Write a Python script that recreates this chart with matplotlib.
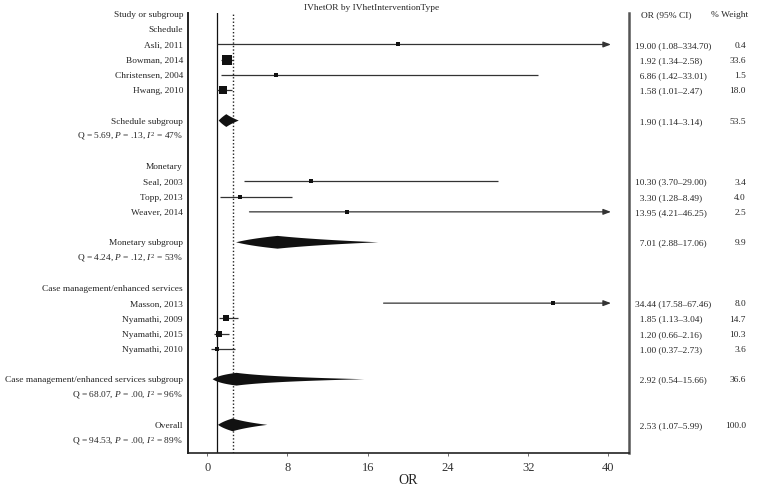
import numpy as np
import matplotlib
matplotlib.use("Agg")
import matplotlib.pyplot as plt
from matplotlib.transforms import blended_transform_factory

plt.rcParams['font.family'] = ['Liberation Serif', 'DejaVu Serif']
plt.rcParams['mathtext.fontset'] = 'custom'
plt.rcParams['mathtext.rm'] = 'Liberation Serif'
plt.rcParams['mathtext.it'] = 'Liberation Serif:italic'

# ---------------- data ----------------
group_names = ["Schedule", "Monetary", "Case management/enhanced services"]
study_names = [
    ["Asli, 2011", "Bowman, 2014", "Christensen, 2004", "Hwang, 2010"],
    ["Seal, 2003", "Topp, 2013", "Weaver, 2014"],
    ["Masson, 2013", "Nyamathi, 2009", "Nyamathi, 2015", "Nyamathi, 2010"],
]
study_or = [[19.00, 1.92, 6.86, 1.58], [10.30, 3.30, 13.95], [34.44, 1.85, 1.20, 1.00]]
study_lo = [[1.08, 1.34, 1.42, 1.01], [3.70, 1.28, 4.21], [17.58, 1.13, 0.66, 0.37]]
study_hi = [[334.70, 2.58, 33.01, 2.47], [29.00, 8.49, 46.25], [67.46, 3.04, 2.16, 2.73]]
study_w = [[0.4, 33.6, 1.5, 18.0], [3.4, 4.0, 2.5], [8.0, 14.7, 10.3, 3.6]]

sub_or = [1.90, 7.01, 2.92]
sub_lo = [1.14, 2.88, 0.54]
sub_hi = [3.14, 17.06, 15.66]
sub_w = [53.5, 9.9, 36.6]
sub_q = ["5.69", "4.24", "68.07"]
sub_p = [".13", ".12", ".00"]
sub_i2 = ["47", "53", "96"]

overall_or, overall_lo, overall_hi, overall_w = 2.53, 1.07, 5.99, 100.0
overall_q, overall_p, overall_i2 = "94.53", ".00", "89"

x_ticks = [0, 8, 16, 24, 32, 40]
x_max_display = 40

# ---------------- figure ----------------
W, H = 758, 488
fig = plt.figure(figsize=(W / 100, H / 100), dpi=100)
ax_l, ax_r, ax_t, ax_b = 188, 629, 13, 453
ax = fig.add_axes([ax_l / W, 1 - ax_b / H, (ax_r - ax_l) / W, (ax_b - ax_t) / H])
ax.set_xlim(-1.92, 42.05)
ax.set_ylim(28.85, -0.07)

fs = 6.75
tc = '#262626'
base_off = 0.21
trans_fig_data = blended_transform_factory(fig.transFigure, ax.transData)
x_label = 183 / W
x_orv = 635 / W
x_wt = 746 / W

def fmt(v):
    s = f"{v:.2f}"
    return "\u2007" + s if v < 10 else s

def put(x, row, s, ha):
    ax.text(x, row + base_off, s, transform=trans_fig_data, ha=ha, va='baseline',
            fontsize=fs, color=tc, clip_on=False)

def left_text(row, s):
    put(x_label, row, s, 'right')

def right_cols(row, o, lo, hi, w):
    put(x_orv, row, f"{fmt(o)} ({lo:.2f}\u2013{hi:.2f})", 'left')
    put(x_wt, row, f"{w:.1f}", 'right')

def diamond(row, o, lo, hi, half=0.42):
    n = 60
    l1 = np.exp(np.linspace(np.log(lo), np.log(o), n))
    hL = half * (np.log(l1) - np.log(lo)) / (np.log(o) - np.log(lo))
    r1 = np.exp(np.linspace(np.log(o), np.log(hi), n))
    hR = half * (np.log(hi) - np.log(r1)) / (np.log(hi) - np.log(o))
    xs = np.concatenate([l1, r1, r1[::-1], l1[::-1]])
    ys = np.concatenate([row - hL, row - hR, row + hR[::-1], row + hL[::-1]])
    ax.fill(xs, ys, color='#111111', lw=0, zorder=4)

def qtext(q, p, i2):
    return f"Q = {q}, $\\it{{P}}$ = {p}, $\\it{{I}}^2$ = {i2}%"

# headers
put(x_label, 0, "Study or subgroup", 'right')
put(641 / W, 0, "OR (95% CI)", 'left')
put(711 / W, 0, "% Weight", 'left')
fig.text(0.49, 1 - 10 / H, "IVhetOR by IVhetInterventionType", ha='center', va='baseline',
         fontsize=fs, color=tc)

row = 1
for g in range(len(group_names)):
    left_text(row, group_names[g])
    row += 1
    for k in range(len(study_names[g])):
        o, lo, hi, w = study_or[g][k], study_lo[g][k], study_hi[g][k], study_w[g][k]
        left_text(row, study_names[g][k])
        if hi > x_max_display:
            ax.annotate('', xy=(x_max_display + 0.25, row), xytext=(lo, row),
                        arrowprops=dict(arrowstyle='-|>,head_length=0.45,head_width=0.17',
                                        lw=0.9, color='#333333', shrinkA=0, shrinkB=0),
                        zorder=3)
        else:
            ax.plot([lo, hi], [row, row], color='#333333', lw=0.9, zorder=3,
                    solid_capstyle='butt')
        side_px = max(4.0, 1.72 * np.sqrt(w))
        ax.plot([o], [row], marker='s', ms=side_px * 0.72, color='#111111', mew=0, zorder=5)
        right_cols(row, o, lo, hi, w)
        row += 1
    row += 1
    left_text(row, f"{group_names[g]} subgroup")
    diamond(row, sub_or[g], sub_lo[g], sub_hi[g])
    right_cols(row, sub_or[g], sub_lo[g], sub_hi[g], sub_w[g])
    row += 1
    left_text(row, qtext(sub_q[g], sub_p[g], sub_i2[g]))
    row += 2

left_text(row, "Overall")
diamond(row, overall_or, overall_lo, overall_hi)
right_cols(row, overall_or, overall_lo, overall_hi, overall_w)
row += 1
left_text(row, qtext(overall_q, overall_p, overall_i2))

# reference lines
ax.axvline(1, color='#111111', lw=0.9, zorder=2)
ax.axvline(overall_or, color='#222222', lw=1.0, ls=(0, (1, 1.5)), zorder=2)

# axes styling
ax.spines['top'].set_visible(False)
ax.spines['left'].set_linewidth(1.4)
ax.spines['left'].set_color('#222222')
ax.spines['right'].set_linewidth(1.8)
ax.spines['right'].set_color('#555555')
ax.spines['bottom'].set_linewidth(1.2)
ax.spines['bottom'].set_color('#222222')
ax.set_yticks([])
ax.set_xticks(x_ticks)
ax.set_xticklabels([str(t) for t in x_ticks], fontsize=9, color='#333333')
ax.tick_params(axis='x', length=2.5, width=0.6, color='#555555', pad=4)
ax.set_xlabel("OR", fontsize=10, color='#222222', labelpad=0)

fig.savefig("out.png", dpi=100)
